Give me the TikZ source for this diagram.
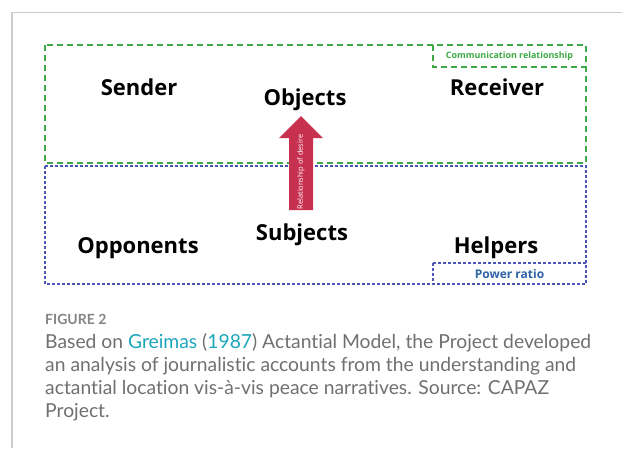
\documentclass[tikz,border=0pt]{standalone}
\usepackage{fontspec}
\setmainfont{Open Sans}
\newfontfamily\capfont{Lato}[Ligatures={NoCommon}]
\definecolor{frameg}{HTML}{CCCCCC}
\definecolor{grn}{HTML}{3DAA45}
\definecolor{blu}{HTML}{4A55B5}
\definecolor{pwr}{HTML}{2E63A6}
\definecolor{crim}{HTML}{C8304F}
\definecolor{capgray}{HTML}{707070}
\definecolor{teal}{HTML}{1CA6BA}
\begin{document}
\begin{tikzpicture}[x=1pt,y=-1pt,
  actant/.style={font=\fontsize{22}{26}\selectfont\bfseries, anchor=base, inner sep=0pt},
  gbox/.style={draw=grn, line width=1.2pt, dash pattern=on 6pt off 4pt},
  bbox/.style={draw=blu, line width=1.2pt, dash pattern=on 3pt off 2pt},
  caption/.style={font=\capfont\fontsize{19.3}{23}\selectfont, text=capgray, anchor=north west, inner sep=0pt, align=left}]
\useasboundingbox (0,0) rectangle (622,448);
\fill[white] (0,0) rectangle (622,448);
\draw[frameg, line width=1.5pt] (12,448) -- (12,12.5) -- (622,12.5);
% boxes
\draw[gbox] (45,45) rectangle (586,163);
\draw[bbox] (45,166) rectangle (586,284);
\draw[gbox] (433,45) rectangle (586,67);
\draw[bbox] (433,263) rectangle (586,284);
\node[inner sep=0pt, text=grn, font=\fontsize{8.9}{11}\selectfont\bfseries] (comm) at (509.5,56) {Communication relationship};
\node[inner sep=0pt, text=pwr, font=\fontsize{12}{14}\selectfont\bfseries] (power) at (509.5,273.5) {Power ratio};
% actants
\node[actant] (sender) at (139,95) {Sender};
\node[actant] (objects) at (305,105) {Objects};
\node[actant] (receiver) at (497,95) {Receiver};
\node[actant] (opponents) at (138,253) {Opponents};
\node[actant] (subjects) at (302,240) {Subjects};
\node[actant] (helpers) at (496,253) {Helpers};
% arrow
\fill[crim] (289,210) -- (289,138) -- (279,138) -- (301,116) -- (323,138) -- (313,138) -- (313,210) -- cycle;
\node[rotate=90, text=white, font=\fontsize{7.4}{9}\selectfont, inner sep=0pt] (desire) at (301,172) {Relationship of desire};
% caption
\node[font=\capfont\fontsize{14}{16}\selectfont\bfseries, text=capgray!85, anchor=base west, inner sep=0pt] (fig) at (45,324) {FIGURE 2};
\node[caption] (captext) at (45,333) {Based on \textcolor{teal}{Greimas} (\textcolor{teal}{1987}) Actantial Model, the Project developed\\an analysis of journalistic accounts from the understanding and\\actantial location vis-\`a-vis peace narratives. Source: CAPAZ\\Project.};
\end{tikzpicture}
\end{document}
